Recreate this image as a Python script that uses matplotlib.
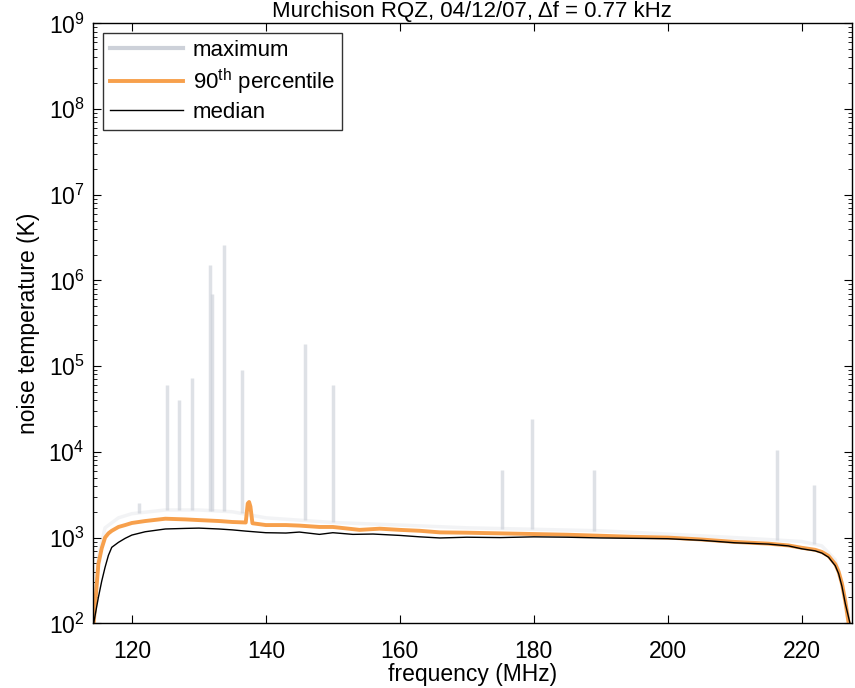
import matplotlib
matplotlib.use("Agg")
import matplotlib.pyplot as plt
import numpy as np

plt.rcParams['font.family'] = ['Liberation Sans', 'DejaVu Sans']
plt.rcParams['mathtext.fontset'] = 'custom'
plt.rcParams['mathtext.rm'] = 'Liberation Sans'

title = "Murchison RQZ, 04/12/07, \u0394f = 0.77 kHz"

# smooth curves (frequency in MHz, temperature in K)
freq_med = [114.3, 115, 115.5, 116, 116.5, 117, 118, 119, 120, 122, 125, 128, 130, 133, 135,
            137, 140, 143, 145, 148, 150, 153, 156, 160, 163, 166, 170, 175, 180, 185, 190,
            195, 200, 205, 210, 215, 218, 220, 222, 223, 224, 225, 225.5, 226, 226.5, 227.2]
median = [100, 200, 310, 450, 620, 770, 880, 980, 1070, 1170, 1260, 1280, 1290, 1260, 1230,
          1190, 1140, 1130, 1160, 1090, 1140, 1090, 1100, 1060, 1020, 990, 1010, 1000, 1020, 1010, 990,
          980, 970, 930, 870, 840, 800, 740, 700, 660, 590, 470, 380, 270, 170, 100]

freq_p90 = [114.3, 115, 115.5, 116, 116.5, 117, 118, 119, 120, 122, 125, 128, 130, 133, 135,
            137, 137.3, 137.5, 137.7, 138, 140, 143, 145, 148, 150, 154, 157, 160, 163, 166, 170,
            175, 180, 185, 190, 195, 200, 205, 210, 215, 218, 220, 222, 223, 224, 225, 225.5,
            226, 226.5, 227.0]
p90 = [100, 490, 750, 1000, 1120, 1200, 1330, 1400, 1480, 1560, 1660, 1630, 1600, 1560, 1520,
       1500, 2500, 2600, 2300, 1470, 1400, 1400, 1380, 1330, 1330, 1230, 1270, 1230, 1200, 1150, 1140,
       1120, 1100, 1080, 1050, 1020, 1000, 950, 890, 850, 810, 760, 720, 680, 610, 490, 400,
       290, 180, 100]

# maximum: baseline plus narrow interference spikes
freq_max = [114.3, 115, 116, 118, 120, 125, 130, 135, 140, 150, 160, 170, 180, 190, 200, 210,
            220, 223, 225, 226, 227]
max_base = [100, 600, 1300, 1700, 1900, 2100, 2100, 2000, 1700, 1500, 1400, 1300, 1250, 1200,
            1100, 1000, 900, 800, 550, 300, 120]
spike_freq = [121.0, 125.3, 127.0, 129.0, 131.7, 132.0, 133.7, 136.5, 145.8, 150.0, 175.2,
              179.7, 189.0, 216.3, 221.9]
spike_peak = [2500, 6.0e4, 4.0e4, 7.2e4, 1.5e6, 7.0e5, 2.6e6, 9.0e4, 1.8e5, 6.0e4, 6.2e3,
              2.4e4, 6.2e3, 1.05e4, 4.1e3]

xticks = [120, 140, 160, 180, 200, 220]
yticks = [1e2, 1e3, 1e4, 1e5, 1e6, 1e7, 1e8, 1e9]

fig = plt.figure(figsize=(8.55, 6.88), dpi=100)
ax = fig.add_axes([93/855, (688-623.3)/688, (852-93)/855, (623.3-23.3)/688])

max_color = '#cdd1d9'
p90_color = '#f7a04c'

base_at_spikes = np.interp(spike_freq, freq_max, max_base)
ax.plot(freq_max, max_base, color=max_color, lw=2.5, alpha=0.25)
ax.vlines(spike_freq, base_at_spikes, spike_peak, color=max_color, lw=2.5, alpha=0.65)
ax.plot([], [], color=max_color, lw=3, label='maximum')
ax.plot(freq_p90, p90, color=p90_color, lw=2.8, label='90$^{\\mathrm{th}}$ percentile')
ax.plot(freq_med, median, color='black', lw=1.0, label='median')

ax.set_yscale('log')
ax.set_xlim(114.2, 227.5)
ax.set_ylim(1e2, 1e9)
ax.set_xticks(xticks)
ax.set_xticklabels([str(t) for t in xticks])
ax.set_yticks(yticks)
ax.tick_params(which='both', direction='in', top=True, right=True, labelsize=16.5)
ax.tick_params(which='major', length=6)
ax.tick_params(which='minor', length=3)
ax.tick_params(axis='x', pad=12)
ax.tick_params(axis='y', pad=6)
for s in ax.spines.values():
    s.set_linewidth(1.0)

ax.set_xlabel('frequency (MHz)', fontsize=16.5, labelpad=0)
ax.set_ylabel('noise temperature (K)', fontsize=16.5, labelpad=6)

leg = ax.legend(loc='upper left', fontsize=16, frameon=True, fancybox=False,
                edgecolor='black', handlelength=3.3, borderaxespad=0.45,
                labelspacing=0.25, borderpad=0.3, handletextpad=0.45)
leg.get_frame().set_linewidth(1.0)

fig.text(472/855, 1 - 17/688, title, ha='center', va='baseline', fontsize=16)

fig.savefig('out.png', dpi=100)
